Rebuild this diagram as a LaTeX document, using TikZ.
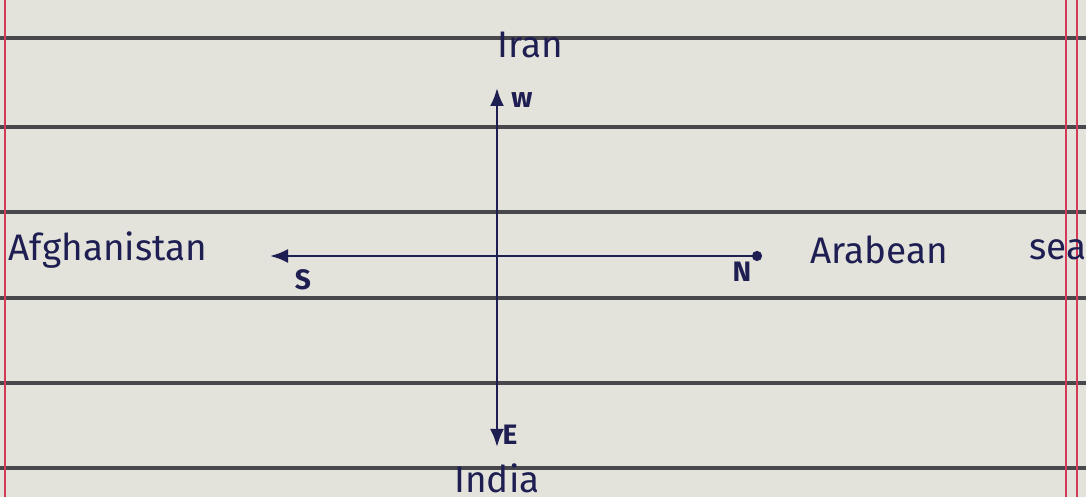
\documentclass[tikz,border=0pt]{standalone}
\usepackage{fontspec}
\setmainfont{Fira Sans}
\usepackage{xcolor}
\usepackage{tikz}
\usetikzlibrary{arrows.meta, positioning}
\definecolor{paper}{HTML}{E3E3DC}
\definecolor{rule}{HTML}{48484C}
\definecolor{margin}{HTML}{D23A58}
\definecolor{ink}{HTML}{1E1E52}
\tikzset{
  ruleline/.style={
    line width=0.9pt, color=rule
  },
  marginline/.style={
    line width=0.8pt, color=margin
  },
  axisline/.style={
    line width=0.75pt, color=ink
  },
  placelabel/.style={
    font=\fontsize{10.5}{12}\selectfont, text=ink, inner sep=1pt
  },
  dirlabel/.style={
    font=\fontsize{8}{9}\selectfont\bfseries, text=ink, inner sep=1pt
  },
}

\begin{document}
\begin{tikzpicture}
  % Page
  \fill[paper] (0,0) rectangle (10.86,4.97);
  \useasboundingbox (0,0) rectangle (10.86,4.97);
  \foreach \y in {4.59,3.70,2.85,1.99,1.14,0.29}
    \draw[ruleline] (0,\y) -- (10.86,\y);
  \draw[marginline] (0.05,0) -- (0.05,4.97);
  \draw[marginline] (10.66,0) -- (10.66,4.97);
  \draw[marginline] (10.77,0) -- (10.77,4.97);

  % Ends of the axes
  \coordinate (w) at (4.97,4.09);
  \coordinate (e) at (4.97,0.50);
  \coordinate (s) at (2.70,2.41);
  \coordinate (n) at (7.62,2.41);

  % Axes
  \draw[axisline, {Latex[length=1.8mm,width=1.4mm]}-{Latex[length=1.8mm,width=1.4mm]}] (w) -- (e);
  \draw[axisline, {Latex[length=1.8mm,width=1.4mm]}-{Circle[length=1mm]}] (s) -- (n);

  % Directions
  \node[dirlabel] (wlabel) at (5.22,3.97) {w};
  \node[dirlabel] (elabel) at (5.10,0.62) {E};
  \node[dirlabel] (slabel) at (3.03,2.17) {S};
  \node[dirlabel] (nlabel) at (7.42,2.25) {N};

  % Places
  \node[placelabel] (iran) at (5.30,4.52) {Iran};
  \node[placelabel] (india) at (4.97,0.19) {India};
  \node[placelabel] (afghanistan) at (1.08,2.47) {Afghanistan};
  \node[placelabel] (arabean) at (8.79,2.47) {Arabean};
  \node[placelabel] (sea) at (10.58,2.47) {sea};
\end{tikzpicture}
\end{document}
